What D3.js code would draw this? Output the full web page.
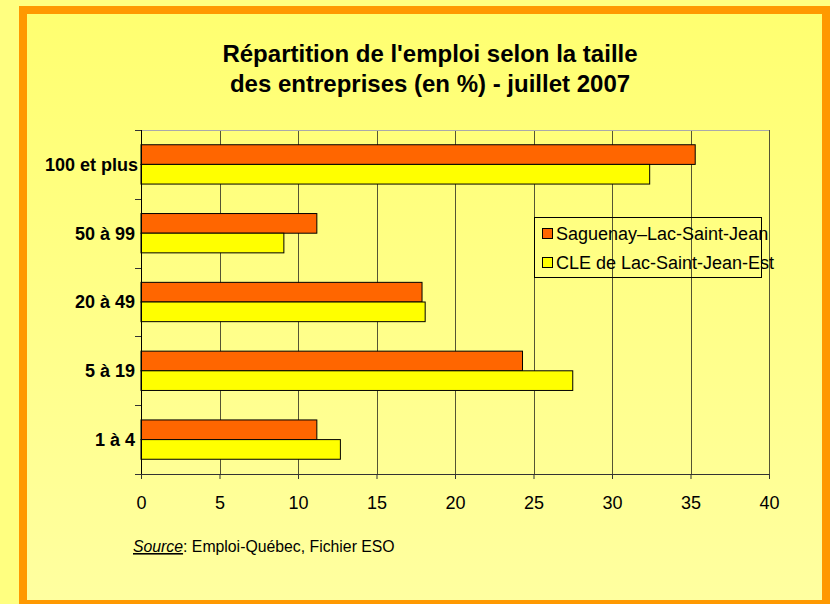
<!DOCTYPE html>
<html>
<head>
<meta charset="utf-8">
<script src="https://cdn.jsdelivr.net/npm/d3@7"></script>
<style>
  body { margin: 0; background: #ffff80; }
  svg { display: block; font-family: Arial, "Liberation Sans", sans-serif; }
</style>
</head>
<body>
<div id="chart"></div>
<script>
// data
const categories = ["100 et plus", "50 à 99", "20 à 49", "5 à 19", "1 à 4"];
const seriesNames = ["Saguenay–Lac-Saint-Jean", "CLE de Lac-Saint-Jean-Est"];
const saguenay = [35.3, 11.2, 17.9, 24.3, 11.2];
const cleLacStJeanEst = [32.4, 9.1, 18.1, 27.5, 12.7];
const xTicks = [0, 5, 10, 15, 20, 25, 30, 35, 40];
const colors = ["#ff6600", "#ffff00"];

const width = 830, height = 604;
const margin = { top: 130, right: 62, bottom: 130, left: 141 };

const svg = d3.select("#chart").append("svg")
    .attr("width", width)
    .attr("height", height);

// background gradient + orange frame
const defs = svg.append("defs");
const grad = defs.append("linearGradient")
    .attr("id", "bg").attr("x1", 0).attr("y1", 0).attr("x2", 0).attr("y2", 1);
grad.append("stop").attr("offset", "0%").attr("stop-color", "#ffff70");
grad.append("stop").attr("offset", "100%").attr("stop-color", "#ffffa0");

svg.append("rect").attr("width", width).attr("height", height).attr("fill", "#ffff80");
svg.append("rect")
    .attr("x", 23).attr("y", 10)
    .attr("width", 803).attr("height", 594)
    .attr("fill", "url(#bg)")
    .attr("stroke", "#ff9900")
    .attr("stroke-width", 8);

const x = d3.scaleLinear()
    .domain([0, 40])
    .range([margin.left, width - margin.right + 1]);

// gap width 150% like the original
const y = d3.scaleBand()
    .domain(categories)
    .range([margin.top, height - margin.bottom])
    .paddingInner(1.5 / 3.5)
    .paddingOuter(0.75 / 3.5);

const inner = d3.scaleBand()
    .domain([0, 1])
    .range([0, y.bandwidth()]);

// gridlines
svg.append("g")
    .selectAll("line")
    .data(xTicks.slice(1))
    .enter()
    .append("line")
    .attr("x1", d => Math.round(x(d)) + 0.5).attr("x2", d => Math.round(x(d)) + 0.5)
    .attr("y1", margin.top).attr("y2", height - margin.bottom)
    .style("stroke", "#555533")
    .style("stroke-width", 1);

// top border of plot area
svg.append("line")
    .attr("x1", margin.left).attr("x2", x(40))
    .attr("y1", margin.top + 0.5).attr("y2", margin.top + 0.5)
    .style("stroke", "#aaa");

// bars
const series = [saguenay, cleLacStJeanEst];
series.forEach((vals, s) => {
    svg.append("g")
        .selectAll("rect")
        .data(vals)
        .enter()
        .append("rect")
        .attr("x", x(0))
        .attr("y", (d, i) => y(categories[i]) + inner(s))
        .attr("width", d => x(d) - x(0))
        .attr("height", inner.bandwidth())
        .style("fill", colors[s])
        .style("stroke", "#000")
        .style("stroke-width", 1);
});

// x axis
const xAxis = svg.append("g")
    .attr("transform", "translate(0," + (height - margin.bottom) + ")")
    .call(d3.axisBottom(x).tickValues(xTicks).tickSize(5).tickPadding(17));
xAxis.select(".domain").style("stroke", "#333");
xAxis.selectAll(".tick line").style("stroke", "#333");
xAxis.selectAll("text")
    .style("font-size", "18px")
    .style("fill", "#000")
    .style("font-family", "Arial, 'Liberation Sans', sans-serif");

// y axis with ticks at category boundaries
const yAxisG = svg.append("g");
yAxisG.append("line")
    .attr("x1", margin.left + 0.5).attr("x2", margin.left + 0.5)
    .attr("y1", margin.top).attr("y2", height - margin.bottom)
    .style("stroke", "#000");
const step = y.step();
const bounds = categories.map((c, i) => margin.top + step * i).concat([height - margin.bottom]);
yAxisG.selectAll(".ytick")
    .data(bounds)
    .enter()
    .append("line")
    .attr("x1", margin.left - 6).attr("x2", margin.left)
    .attr("y1", d => Math.round(d) + 0.5).attr("y2", d => Math.round(d) + 0.5)
    .style("stroke", "#333");
yAxisG.selectAll(".ylabel")
    .data(categories)
    .enter()
    .append("text")
    .attr("x", d => d === "100 et plus" ? margin.left - 3 : margin.left - 6)
    .attr("y", d => y(d) + y.bandwidth() / 2)
    .attr("dy", "0.35em")
    .attr("text-anchor", "end")
    .style("font-size", "18px")
    .style("font-weight", "bold")
    .text(d => d);

// title
const title = svg.append("text")
    .attr("text-anchor", "middle")
    .style("font-size", "24px")
    .style("font-weight", "bold");
title.append("tspan").attr("x", 430).attr("y", 62).text("Répartition de l'emploi selon la taille");
title.append("tspan").attr("x", 430).attr("y", 92).text("des entreprises (en %) - juillet 2007");

// legend
const legend = svg.append("g").attr("transform", "translate(534,217)");
legend.append("rect")
    .attr("x", 0.5).attr("y", 0.5)
    .attr("width", 227).attr("height", 60)
    .style("fill", "none")
    .style("stroke", "#000");
seriesNames.forEach((name, i) => {
    const row = legend.append("g").attr("transform", "translate(0," + (17 + i * 29) + ")");
    row.append("rect")
        .attr("x", 8.5).attr("y", -5.5)
        .attr("width", 10).attr("height", 10)
        .style("fill", colors[i])
        .style("stroke", "#000");
    row.append("text")
        .attr("x", 22).attr("y", 0)
        .attr("dy", "0.35em")
        .style("font-size", "18px")
        .text(name);
});

// source note
const src = svg.append("text")
    .attr("x", 133).attr("y", 552)
    .style("font-size", "15.8px");
src.append("tspan")
    .style("font-style", "italic")
    .style("text-decoration", "underline")
    .text("Source");
src.append("tspan").text(": Emploi-Québec, Fichier ESO");
</script>
</body>
</html>
